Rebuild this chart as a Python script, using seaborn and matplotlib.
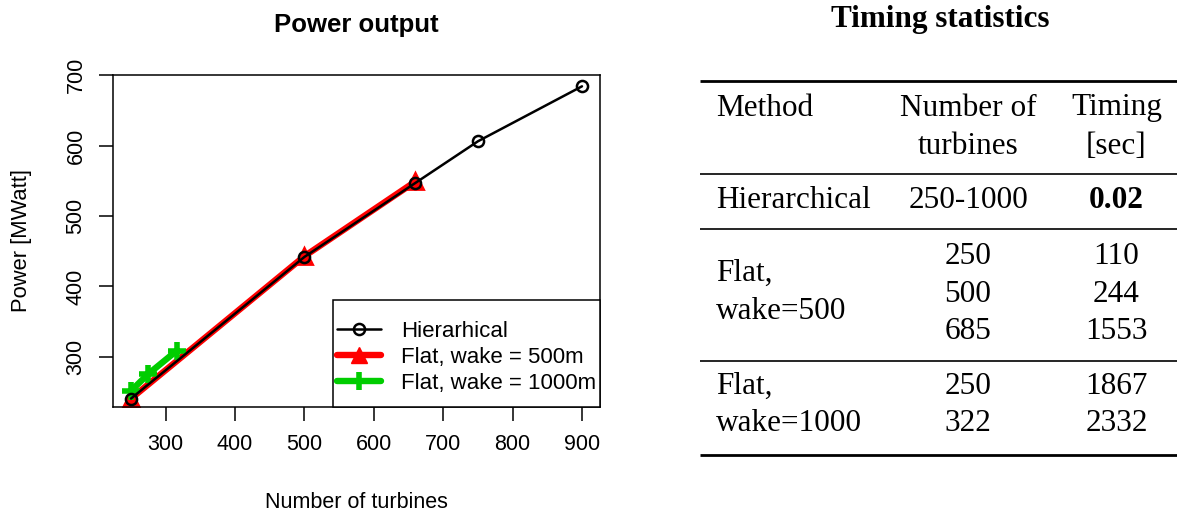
import matplotlib
matplotlib.use("Agg")
import matplotlib.pyplot as plt
from matplotlib.lines import Line2D
from matplotlib.patches import Rectangle
import seaborn as sns
import pandas as pd

# ---- data -------------------------------------------------------------
hier_turbines = [250, 500, 660, 750, 900]
hier_power = [241, 442, 547, 606, 684]

flat500_turbines = [250, 500, 660]
flat500_power = [241, 443, 549]

flat1000_turbines = [250, 275, 316]
flat1000_power = [252, 276, 309]

series_labels = ["Hierarhical", "Flat, wake = 500m", "Flat, wake = 1000m"]
x_ticks = [300, 400, 500, 600, 700, 800, 900]
y_ticks = [300, 400, 500, 600, 700]

# timing table
table_header = [["Method"], ["Number of", "turbines"], ["Timing", "[sec]"]]
table_methods = [["Hierarchical"], ["Flat,", "wake=500"], ["Flat,", "wake=1000"]]
table_counts = [["250-1000"], ["250", "500", "685"], ["250", "322"]]
table_timings = [["0.02"], ["110", "244", "1553"], ["1867", "2332"]]

# ---- style ------------------------------------------------------------
sns.set_style("white")
plt.rcParams["font.family"] = ["Liberation Sans", "DejaVu Sans"]
for key in ["text.color", "axes.labelcolor", "xtick.color", "ytick.color",
            "axes.edgecolor"]:
    plt.rcParams[key] = "black"
SERIF = ["Liberation Serif", "DejaVu Serif"]

W, H, DPI = 1177, 517, 100
fig = plt.figure(figsize=(W / DPI, H / DPI), dpi=DPI)

# ---- line chart -------------------------------------------------------
AX_L, AX_R, AX_T, AX_B = 113, 600, 74.7, 407.3
ax = fig.add_axes([AX_L / W, 1 - AX_B / H, (AX_R - AX_L) / W, (AX_B - AX_T) / H])

df_h = pd.DataFrame({"turbines": hier_turbines, "power": hier_power})
df_f5 = pd.DataFrame({"turbines": flat500_turbines, "power": flat500_power})
df_f10 = pd.DataFrame({"turbines": flat1000_turbines, "power": flat1000_power})

sns.lineplot(data=df_f5, x="turbines", y="power", ax=ax, color="#ff0000",
             linewidth=4.6, marker="^", markersize=11, markeredgewidth=2,
             markeredgecolor="#ff0000", sort=False, zorder=2)
sns.lineplot(data=df_f10, x="turbines", y="power", ax=ax, color="#00cd00",
             linewidth=4.6, marker="+", markersize=13, markeredgewidth=4,
             markeredgecolor="#00cd00", sort=False, zorder=3)
sns.lineplot(data=df_h, x="turbines", y="power", ax=ax, color="black",
             linewidth=1.8, marker="o", markersize=8, markerfacecolor="none",
             markeredgecolor="black", markeredgewidth=1.8, sort=False, zorder=4)

ax.set_xlim(224, 926)
ax.set_ylim(228.6, 700.5)
ax.set_xticks(x_ticks)
ax.set_yticks(y_ticks)
ax.set_xticklabels([str(v) for v in x_ticks], fontsize=15.5)
ax.set_yticklabels([str(v) for v in y_ticks], fontsize=15.5, rotation=90,
                   va="center")
ax.tick_params(axis="both", direction="out", length=10, width=1.1,
               color="black", bottom=True, left=True)
ax.tick_params(axis="x", pad=9)
ax.tick_params(axis="y", pad=9)
for s in ax.spines.values():
    s.set_visible(True)
    s.set_color("black")
    s.set_linewidth(1.1)

ax.set_xlabel("Number of turbines", fontsize=15.5)
ax.set_ylabel("Power [MWatt]", fontsize=15.8)
ax.xaxis.set_label_coords(0.5, (AX_B - 502) / (AX_B - AX_T))
ax.xaxis.label.set_va("center")
ax.yaxis.set_label_coords((21.5 - AX_L) / (AX_R - AX_L), 0.5)
ax.yaxis.label.set_va("center")
ax.set_title("Power output", fontsize=18.5, fontweight="bold", pad=31)

# legend box in the lower right corner
def ax_x(px):
    return (px - AX_L) / (AX_R - AX_L)

def ax_y(py):
    return (AX_B - py) / (AX_B - AX_T)

ax.add_patch(Rectangle((ax_x(332.7), 0), 1 - ax_x(332.7), ax_y(300),
                       transform=ax.transAxes, facecolor="white",
                       edgecolor="black", linewidth=1.1, zorder=5,
                       clip_on=False))

handles = [
    Line2D([], [], color="black", linewidth=1.8, marker="o", markersize=8,
           markerfacecolor="none", markeredgewidth=1.8),
    Line2D([], [], color="#ff0000", linewidth=4.6, marker="^", markersize=11),
    Line2D([], [], color="#00cd00", linewidth=4.6, marker="+", markersize=13,
           markeredgewidth=4),
]
leg = ax.legend(handles, series_labels, loc="lower left",
                bbox_to_anchor=(ax_x(336.7), ax_y(394)), fontsize=16,
                frameon=False, borderaxespad=0, borderpad=0,
                handlelength=2.0, handletextpad=0.88, labelspacing=0.22)
leg.set_zorder(6)

# ---- timing table -----------------------------------------------------
tax = fig.add_axes([0, 0, 1, 1])
tax.set_xlim(0, W)
tax.set_ylim(H, 0)
tax.axis("off")

tax.text(940.5, 20, "Timing statistics", family=SERIF, fontsize=22.4,
         fontweight="bold", ha="center", va="center")

x_left, x_right = 700, 1177
rules = [(80.7, 2.0), (174.3, 1.2), (229.3, 1.2), (361, 1.2), (455, 2.0)]
for y, lw in rules:
    tax.plot([x_left, x_right], [y, y], color="black", linewidth=lw,
             solid_capstyle="butt")

col_x = [716, 968, 1116.5]
fs = 22.5

# header
for ci, lines in enumerate(table_header):
    for li, t in enumerate(lines):
        tax.text(col_x[ci], 108 + li * 39, t, family=SERIF, fontsize=fs,
                 ha="left" if ci == 0 else "center", va="center")

# body groups: method lines and value lines
method_y = [[200], [273, 311.7], [386.7, 423.3]]
value_y = [[200], [256.7, 294.3, 331.7], [386.7, 423.3]]
for g in range(len(table_methods)):
    for t, y in zip(table_methods[g], method_y[g]):
        tax.text(col_x[0], y, t, family=SERIF, fontsize=fs, ha="left",
                 va="center")
    for t, y in zip(table_counts[g], value_y[g]):
        tax.text(col_x[1], y, t, family=SERIF, fontsize=fs, ha="center",
                 va="center")
    for t, y in zip(table_timings[g], value_y[g]):
        tax.text(col_x[2], y, t, family=SERIF, fontsize=fs, ha="center",
                 va="center", fontweight="bold" if g == 0 else "normal")

fig.savefig("out.png", dpi=DPI)
